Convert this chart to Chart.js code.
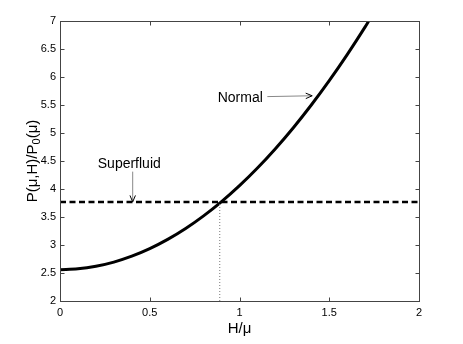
<!DOCTYPE html>
<html>
<head>
<meta charset="utf-8">
<script src="https://cdn.jsdelivr.net/npm/chart.js@4/dist/chart.umd.min.js"></script>
<style>
    html, body { margin: 0; padding: 0; background: #fff; }
</style>
</head>
<body>
<canvas id="pressureChart" width="463" height="344"></canvas>
<script>
// values
const hValues = [0, 0.1, 0.2, 0.3, 0.4, 0.5, 0.6, 0.7, 0.8, 0.9, 1.0, 1.1, 1.2, 1.3, 1.4, 1.5, 1.6, 1.7, 1.72];
const normalValues = [2.56, 2.575, 2.62, 2.695, 2.80, 2.935, 3.10, 3.295, 3.52, 3.775, 4.06, 4.375, 4.72, 5.095, 5.50, 5.935, 6.40, 6.895, 7.0];
const superfluidLevel = 3.77;
const crossingH = 0.89;
const xRange = [0, 2];
const yRange = [2, 7];

const FONT = '"Liberation Sans", Arial, Helvetica, sans-serif';

// annotation text + arrows (in data units)
const notes = [
    { text: 'Normal', x: 1.13, y: 5.63, align: 'right', tail: [1.155, 5.65], tip: [1.405, 5.665] },
    { text: 'Superfluid', x: 0.386, y: 4.45, align: 'center', tail: [0.405, 4.31], tip: [0.405, superfluidLevel] }
];

function drawArrow(ctx, x1, y1, x2, y2) {
    const ang = Math.atan2(y2 - y1, x2 - x1);
    const len = 7;
    ctx.save();
    ctx.strokeStyle = '#888';
    ctx.lineWidth = 1;
    ctx.beginPath();
    ctx.moveTo(x1, y1);
    ctx.lineTo(x2, y2);
    ctx.stroke();
    ctx.strokeStyle = '#000';
    ctx.beginPath();
    ctx.moveTo(x2 - len * Math.cos(ang - 0.4), y2 - len * Math.sin(ang - 0.4));
    ctx.lineTo(x2, y2);
    ctx.lineTo(x2 - len * Math.cos(ang + 0.4), y2 - len * Math.sin(ang + 0.4));
    ctx.stroke();
    ctx.restore();
}

const framePlugin = {
    id: 'frame',
    afterDraw(chart) {
        const ctx = chart.ctx;
        const a = chart.chartArea;
        const xs = chart.scales.x, ys = chart.scales.y;
        const L = Math.round(a.left) + 0.5, R = Math.round(a.right) + 0.5;
        const T = Math.round(a.top) + 0.5, B = Math.round(a.bottom) + 0.5;

        ctx.save();
        ctx.strokeStyle = '#444';
        ctx.lineWidth = 1;
        ctx.strokeRect(L, T, R - L, B - T);

        // inward ticks on all four sides
        ctx.beginPath();
        xs.ticks.forEach(t => {
            const px = Math.round(xs.getPixelForValue(t.value)) + 0.5;
            ctx.moveTo(px, B); ctx.lineTo(px, B - 4);
            ctx.moveTo(px, T); ctx.lineTo(px, T + 4);
        });
        ys.ticks.forEach(t => {
            const py = Math.round(ys.getPixelForValue(t.value)) + 0.5;
            ctx.moveTo(L, py); ctx.lineTo(L + 4, py);
            ctx.moveTo(R, py); ctx.lineTo(R - 4, py);
        });
        ctx.stroke();

        // annotations
        ctx.fillStyle = '#000';
        ctx.font = '14px ' + FONT;
        ctx.textBaseline = 'middle';
        notes.forEach(n => {
            ctx.textAlign = n.align;
            ctx.fillText(n.text, xs.getPixelForValue(n.x), ys.getPixelForValue(n.y));
            drawArrow(ctx,
                xs.getPixelForValue(n.tail[0]), ys.getPixelForValue(n.tail[1]),
                xs.getPixelForValue(n.tip[0]), ys.getPixelForValue(n.tip[1]));
        });

        // x axis title
        ctx.font = '15px ' + FONT;
        ctx.textAlign = 'center';
        ctx.textBaseline = 'alphabetic';
        ctx.fillText('H/\u03bc', (a.left + a.right) / 2, 333);

        // y axis title with subscript
        const main = 'P(\u03bc,H)/P', sub = '0', tail = '(\u03bc)';
        ctx.font = '15px ' + FONT;
        const w1 = ctx.measureText(main).width;
        const w3 = ctx.measureText(tail).width;
        ctx.font = '11px ' + FONT;
        const w2 = ctx.measureText(sub).width;
        const total = w1 + w2 + w3;
        ctx.translate(36.5, (a.top + a.bottom) / 2);
        ctx.rotate(-Math.PI / 2);
        ctx.textAlign = 'left';
        ctx.font = '15px ' + FONT;
        ctx.fillText(main, -total / 2, 0);
        ctx.font = '11px ' + FONT;
        ctx.fillText(sub, -total / 2 + w1, 3.5);
        ctx.font = '15px ' + FONT;
        ctx.fillText(tail, -total / 2 + w1 + w2, 0);
        ctx.restore();
    }
};

const tickFont = { family: FONT, size: 11 };
const plainNumber = v => String(Math.round(v * 100) / 100);

new Chart(document.getElementById('pressureChart'), {
    type: 'line',
    data: {
        datasets: [
            {
                label: 'Superfluid',
                data: [{ x: xRange[0], y: superfluidLevel }, { x: xRange[1], y: superfluidLevel }],
                borderColor: '#000',
                borderWidth: 2.5,
                borderDash: [6, 3.5],
                pointRadius: 0
            },
            {
                label: 'crossing',
                data: [{ x: crossingH, y: yRange[0] }, { x: crossingH, y: superfluidLevel }],
                borderColor: '#777',
                borderWidth: 1,
                borderDash: [1, 2],
                pointRadius: 0
            },
            {
                label: 'Normal',
                data: hValues.map((h, i) => ({ x: h, y: normalValues[i] })),
                borderColor: '#000',
                borderWidth: 3,
                pointRadius: 0,
                cubicInterpolationMode: 'monotone'
            }
        ]
    },
    options: {
        responsive: false,
        animation: false,
        layout: { padding: { left: 0, right: 44, top: 21, bottom: 0 } },
        plugins: {
            legend: { display: false },
            tooltip: { enabled: false }
        },
        scales: {
            x: {
                type: 'linear',
                min: xRange[0],
                max: xRange[1],
                grid: { display: false, drawTicks: false },
                border: { display: false },
                ticks: { stepSize: 0.5, padding: 5, color: '#000', font: tickFont, maxRotation: 0, callback: plainNumber },
                afterFit: s => { s.height = 43; }
            },
            y: {
                type: 'linear',
                min: yRange[0],
                max: yRange[1],
                grid: { display: false, drawTicks: false },
                border: { display: false },
                ticks: { stepSize: 0.5, padding: 4, color: '#000', font: tickFont, callback: plainNumber },
                afterFit: s => { s.width = 60; }
            }
        }
    },
    plugins: [framePlugin]
});
</script>
</body>
</html>
